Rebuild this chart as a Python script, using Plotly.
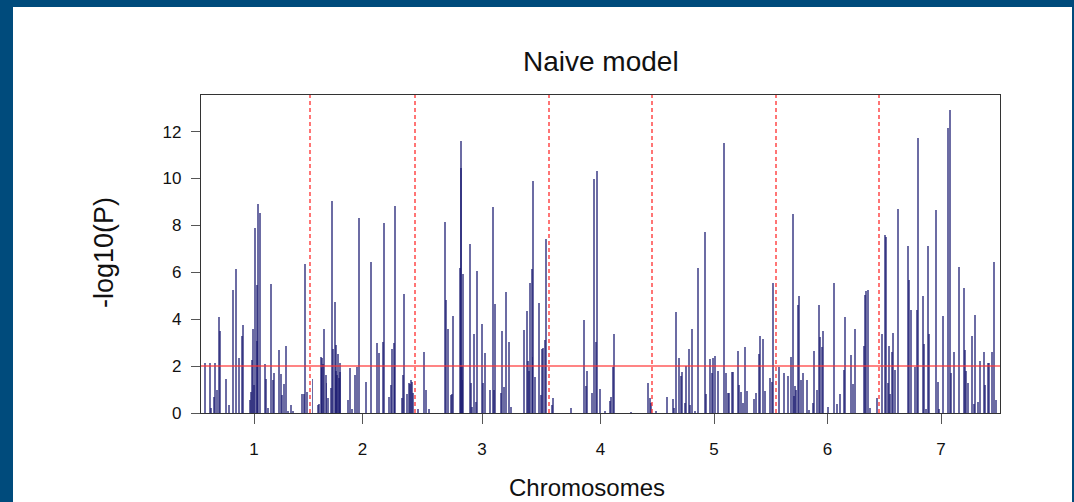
import plotly.graph_objects as go

# ---------------- data ----------------
chromosomes = ["1", "2", "3", "4", "5", "6", "7"]
chrom_lengths = [112, 105, 134, 103, 124, 103, 124]

chr1_pos = [6.7, 11.7, 13.0, 15.7, 17.3, 19.3, 20.7, 22.0, 28.0, 31.3, 34.7, 38.0, 41.3, 43.7, 45.3, 51.7, 53.0, 54.3, 55.3, 56.0,
            57.3, 58.7, 59.3, 60.3, 61.7, 66.7, 68.0, 70.0, 72.7, 74.7, 76.0, 81.0, 82.7, 84.0, 86.0, 87.7, 90.0, 92.7, 94.7,
            104.0, 106.0, 107.3, 109.0]
chr1_logp = [2.15, 2.15, 0.2, 0.67, 2.15, 1.0, 4.1, 3.5, 1.44, 0.34, 5.25, 6.14, 2.33, 3.3, 3.77, 0.56, 0.9, 2.24, 3.57, 1.2,
             7.87, 3.07, 5.46, 8.9, 8.52, 2.08, 1.44, 0.2, 5.5, 1.4, 1.72, 2.69, 1.65, 0.78, 1.24, 2.87, 0.07, 0.35, 0.1,
             0.81, 0.8, 6.34, 0.88]

chr2_pos = [2.5, 7.7, 9.0, 10.7, 11.5, 12.3, 13.0, 14.0, 15.7, 16.5, 17.7, 20.7, 21.7, 23.0, 24.7, 25.7, 26.3, 27.0, 28.3, 28.9,
            29.7, 30.3, 37.7, 40.3, 42.3, 45.0, 46.7, 49.0, 56.3, 60.7, 66.7, 69.0, 72.7, 74.3, 79.3, 81.0, 82.0, 83.7, 84.5,
            85.3, 91.7, 93.0, 94.3, 97.0, 99.0, 100.3, 101.0, 101.7, 102.7]
chr2_logp = [1.44, 0.33, 0.4, 2.4, 1.9, 2.33, 2.1, 3.6, 1.62, 1.3, 0.62, 1.05, 9.04, 2.74, 4.75, 2.9, 1.8, 1.62, 2.5, 1.5,
             2.12, 1.76, 0.56, 1.9, 0.17, 1.62, 1.98, 8.33, 1.33, 6.42, 2.97, 2.54, 3.04, 8.09, 0.67, 1.2, 2.73, 2.97, 2.0,
             8.83, 0.62, 1.62, 5.06, 0.8, 1.27, 1.24, 1.41, 1.34, 0.84]

chr3_pos = [3.3, 9.3, 10.7, 14.0, 30.0, 30.7, 33.3, 35.7, 37.3, 38.3, 45.3, 45.7, 46.3, 46.9, 47.6, 48.3, 54.7, 55.7, 56.7,
            59.0, 60.7, 62.0, 67.3, 68.3, 70.3, 75.0, 77.7, 79.0, 80.3, 85.7, 87.0, 88.7, 90.7, 93.7, 95.7, 109.3, 112.3,
            113.3, 114.2, 115.0, 116.7, 117.5, 118.3, 120.3, 124.3, 125.7, 127.0, 128.3, 129.7, 131.3]
chr3_logp = [0.16, 2.62, 0.98, 0.16, 8.16, 4.82, 3.57, 0.77, 0.8, 4.15, 6.2, 11.61, 10.43, 2.0, 1.4, 5.93, 7.19, 1.27, 0.27,
             3.35, 0.48, 6.06, 3.78, 1.27, 2.54, 0.98, 8.8, 0.98, 4.65, 0.84, 3.5, 1.12, 5.17, 3.01, 0.27, 3.52, 4.36,
             2.2, 1.8, 5.56, 6.13, 2.4, 9.91, 1.55, 4.7, 0.77, 2.71, 2.76, 3.11, 7.42]

chr4_pos = [2.7, 4.3, 22.0, 35.3, 36.7, 38.0, 42.7, 45.0, 47.3, 48.3, 51.3, 56.0, 61.0, 62.3, 63.7, 65.3, 82.0, 99.3, 100.7, 102.0]
chr4_logp = [0.34, 0.63, 0.2, 3.97, 1.14, 1.8, 0.84, 9.96, 3.01, 10.32, 1.01, 0.1, 0.52, 0.69, 1.98, 3.35, 0.05, 1.27, 0.63, 0.41]

chr5_pos = [3.7, 15.3, 20.7, 22.3, 24.0, 27.3, 28.7, 30.3, 33.0, 34.0, 37.0, 38.0, 40.0, 43.0, 46.0, 53.3, 54.0, 57.7, 60.0,
            61.0, 63.3, 66.0, 72.3, 74.0, 76.0, 77.3, 80.0, 81.3, 86.3, 87.3, 89.0, 90.7, 93.0, 94.7, 102.0, 104.0, 106.7,
            108.3, 111.3, 112.7, 118.3, 119.7, 121.3]
chr5_logp = [0.09, 0.7, 0.58, 0.2, 4.32, 2.36, 1.56, 1.73, 0.41, 2.0, 2.73, 0.34, 3.58, 0.1, 6.17, 7.73, 0.8, 2.29, 1.7,
             2.33, 2.43, 1.79, 11.53, 1.7, 0.84, 0.84, 1.76, 1.76, 2.66, 1.19, 0.91, 0.41, 2.8, 0.95, 0.58, 0.87, 2.52,
             3.3, 3.15, 0.93, 1.5, 1.33, 5.56]

chr6_pos = [3.3, 7.7, 12.0, 15.0, 17.0, 17.7, 19.3, 20.3, 22.0, 23.3, 25.3, 27.0, 30.7, 32.7, 36.7, 38.3, 40.7, 43.0, 44.3,
            45.7, 47.0, 52.0, 57.7, 61.0, 63.7, 67.7, 69.3, 75.3, 76.7, 79.3, 87.7, 88.7, 90.3, 92.0, 93.7, 100.7]
chr6_logp = [1.95, 1.7, 1.58, 2.4, 8.47, 0.74, 1.17, 0.98, 4.6, 4.99, 1.4, 1.72, 1.4, 0.11, 0.43, 2.66, 0.98, 4.6, 3.26,
             2.83, 3.5, 0.25, 5.53, 0.38, 0.8, 1.83, 4.11, 2.47, 1.24, 3.57, 2.86, 5.03, 5.2, 5.24, 0.2, 0.62]

chr7_pos = [3.3, 6.0, 7.0, 8.7, 10.0, 11.3, 12.7, 13.7, 16.0, 19.3, 28.7, 30.0, 31.7, 35.7, 37.7, 38.7, 44.3, 45.3, 47.0,
            48.7, 50.3, 57.3, 58.7, 60.3, 63.7, 69.3, 70.7, 71.7, 74.7, 79.7, 84.7, 86.0, 87.0, 88.7, 92.7, 94.7, 96.3,
            99.3, 100.7, 105.3, 106.3, 109.0, 110.3, 113.3, 114.7, 116.7]
chr7_logp = [3.37, 7.59, 7.52, 1.3, 2.86, 0.8, 2.62, 3.4, 1.84, 8.69, 7.12, 5.66, 4.39, 1.98, 4.41, 11.74, 5.0, 2.93, 0.17,
             7.12, 3.35, 8.66, 1.32, 0.17, 4.14, 12.14, 12.92, 1.7, 2.62, 6.21, 5.32, 2.7, 1.77, 1.27, 3.3, 0.4, 4.18,
             0.47, 2.2, 2.62, 1.2, 2.15, 2.12, 2.62, 6.42, 0.57]

y_ticks = [0, 2, 4, 6, 8, 10, 12]
threshold = 2

chr_pos = [chr1_pos, chr2_pos, chr3_pos, chr4_pos, chr5_pos, chr6_pos, chr7_pos]
chr_logp = [chr1_logp, chr2_logp, chr3_logp, chr4_logp, chr5_logp, chr6_logp, chr7_logp]

# cumulative genome coordinates
starts = []
acc = 0
for L in chrom_lengths:
    starts.append(acc)
    acc += L
ends = [s + L for s, L in zip(starts, chrom_lengths)]
centers = [(s + e) / 2 for s, e in zip(starts, ends)]

xs, ys = [], []
for s, p, v in zip(starts, chr_pos, chr_logp):
    xs += [s + q for q in p]
    ys += v

# ---------------- layout geometry ----------------
W, H = 1074, 502
ML, MR, MT, MB = 201, 74, 95, 89
PW, PH = W - ML - MR, H - MT - MB


def px(xp):
    return (xp - ML) / PW


def py(yp):
    return (H - MB - yp) / PH


FONT = "Liberation Sans, Arial, Helvetica, sans-serif"
NAVY = "rgba(25,25,112,0.64)"
FRAME = "#004b7c"

fig = go.Figure()
fig.add_trace(go.Bar(
    x=xs, y=ys, width=1.7,
    marker=dict(color=NAVY, line=dict(width=0)),
    showlegend=False, hoverinfo="x+y",
))

shapes = []
# white panel inside the blue frame
shapes.append(dict(type="rect", xref="paper", yref="paper",
                   x0=px(13), x1=px(1072), y0=py(H + 5), y1=py(7),
                   fillcolor="white", line=dict(width=0), layer="below"))
# chromosome boundaries
for b in ends[:-1]:
    shapes.append(dict(type="line", xref="x", yref="paper", x0=b, x1=b, y0=0, y1=1,
                       line=dict(color="rgba(255,40,40,0.85)", width=1.5, dash="4px,3px")))
# significance threshold
shapes.append(dict(type="line", xref="paper", yref="y", x0=0, x1=1, y0=threshold, y1=threshold,
                   line=dict(color="rgba(255,50,50,0.8)", width=1.5)))

annotations = [
    dict(text="Naive model", xref="paper", yref="paper", x=px(601), y=py(61),
         xanchor="center", yanchor="middle", showarrow=False,
         font=dict(family=FONT, size=28, color="#111")),
    dict(text="-log10(P)", xref="paper", yref="paper", x=px(104), y=py(253),
         xanchor="center", yanchor="middle", showarrow=False, textangle=-90,
         font=dict(family=FONT, size=27, color="#111")),
    dict(text="Chromosomes", xref="paper", yref="paper", x=px(587), y=py(487),
         xanchor="center", yanchor="middle", showarrow=False,
         font=dict(family=FONT, size=24, color="#111")),
]

fig.update_layout(
    width=W, height=H,
    margin=dict(l=ML, r=MR, t=MT, b=MB, pad=0),
    paper_bgcolor=FRAME,
    plot_bgcolor="rgba(0,0,0,0)",
    shapes=shapes,
    annotations=annotations,
    bargap=0,
    font=dict(family=FONT, color="#111"),
)
fig.update_xaxes(
    range=[3, 802], tickvals=centers, ticktext=chromosomes,
    showgrid=False, zeroline=False,
    showline=True, mirror=True, linecolor="#333", linewidth=1.3,
    ticks="outside", ticklen=10, tickwidth=1.3, tickcolor="#555",
    ticklabelstandoff=10,
    tickfont=dict(family=FONT, size=17, color="#111"),
)
fig.update_yaxes(
    range=[0, 13.56], tickvals=y_ticks,
    showgrid=False, zeroline=False,
    showline=True, mirror=True, linecolor="#333", linewidth=1.3,
    ticks="outside", ticklen=9, tickwidth=1.3, tickcolor="#555",
    ticklabelstandoff=6,
    tickfont=dict(family=FONT, size=17, color="#111"),
)

fig.write_html(
    "out.html",
    config={"displayModeBar": False},
    post_script="document.body.style.margin='0';document.body.style.overflow='hidden';",
)
